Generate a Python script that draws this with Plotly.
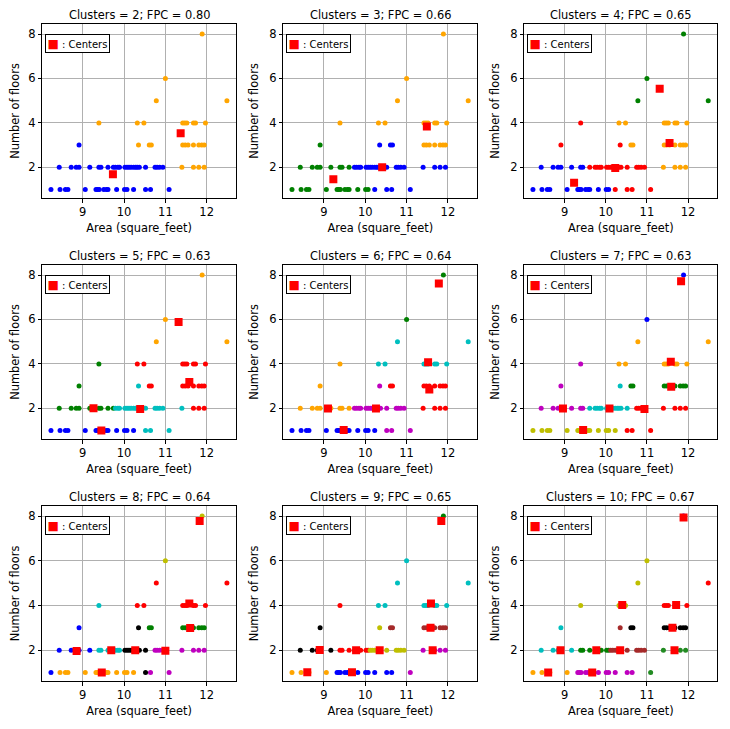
import plotly.graph_objects as go

# ---------------- data ----------------
FLOOR_LEVELS = [1, 2, 3, 4, 5, 6, 8]
AREA_F1 = [8.23, 8.45, 8.58, 8.64, 9.06, 9.32, 9.36, 9.40, 9.51, 9.57, 9.61, 9.82,
           10.01, 10.07, 10.23, 10.52, 10.64, 11.09]
AREA_F2 = [8.43, 8.72, 8.84, 8.91, 9.17, 9.39, 9.44, 9.61, 9.74, 9.79, 9.85, 9.89,
           10.02, 10.07, 10.12, 10.17, 10.23, 10.28, 10.32, 10.37, 10.52, 10.75,
           10.80, 10.86, 10.94, 11.40, 11.68, 11.81, 11.94]
AREA_F3 = [8.91, 10.35, 10.61, 10.66, 11.42, 11.48, 11.55, 11.68, 11.81, 11.88, 11.94]
AREA_F4 = [9.39, 10.32, 10.48, 11.42, 11.47, 11.52, 11.68, 11.73, 11.97]
AREA_F5 = [10.78, 12.49]
AREA_F6 = [11.00]
AREA_F8 = [11.89]

CLUSTER_COUNTS = [2, 3, 4, 5, 6, 7, 8, 9, 10]
FPC_VALUES = [0.80, 0.66, 0.65, 0.63, 0.64, 0.63, 0.64, 0.65, 0.67]

# cluster label of each point, grouped by floor level (1|2|3|4|5|6|8)
LABELS_C2 = "000000000000000000|00000000000000000000000001111|01111111111|111111111|11|1|1"
LABELS_C3 = "222222222222220000|22222222000000000000000000000|20001111111|111111111|11|1|1"
LABELS_C4 = "000000000000003333|00000003333333333333333331111|33111111111|311111111|22|2|2"
LABELS_C5 = "000000000000000444|22222222244444444444444444333|24333333333|233333333|11|1|1"
LABELS_C6 = "000000000000000555|11111111555555555555555553333|15333333333|144444444|44|2|2"
LABELS_C7 = "666666666666666333|55555554444444444444433333333|54222222222|511111111|11|0|0"
LABELS_C8 = "011111111111111755|00000444444477777777755555555|07222222222|433333333|33|6|6"
LABELS_C9 = "111110000000000005|77777333333333666666666665555|76888888888|344444444|44|4|2"
LABELS_C10 = "111115555555555559|44444222222222888888888889999|48777777777|666333333|63|6|0"

CENTER_AREA_C2 = [9.73, 11.37]
CENTER_FLOORS_C2 = [1.69, 3.53]
CENTER_AREA_C3 = [9.23, 10.41, 11.49]
CENTER_FLOORS_C3 = [1.46, 2.00, 3.84]
CENTER_AREA_C4 = [9.23, 10.23, 11.31, 11.55]
CENTER_FLOORS_C4 = [1.31, 1.97, 5.54, 3.09]
CENTER_AREA_C5 = [9.26, 9.45, 10.39, 11.32, 11.58]
CENTER_FLOORS_C5 = [2.00, 1.00, 1.97, 5.88, 3.18]
CENTER_AREA_C6 = [9.10, 9.48, 10.26, 11.52, 11.55, 11.78]
CENTER_FLOORS_C6 = [1.99, 1.03, 1.99, 4.07, 2.85, 7.62]
CENTER_AREA_C7 = [8.96, 9.45, 10.09, 10.94, 11.58, 11.59, 11.83]
CENTER_FLOORS_C7 = [1.99, 1.03, 1.99, 1.97, 4.10, 2.97, 7.72]
CENTER_AREA_C8 = [8.85, 9.46, 9.69, 10.27, 11.00, 11.58, 11.60, 11.83]
CENTER_FLOORS_C8 = [1.96, 1.00, 2.00, 2.00, 1.97, 4.09, 2.99, 7.78]
CENTER_AREA_C9 = [8.60, 8.90, 9.68, 9.78, 10.35, 11.63, 11.59, 11.58, 11.84]
CENTER_FLOORS_C9 = [1.01, 2.01, 1.01, 2.00, 2.00, 2.00, 4.09, 3.00, 7.78]
CENTER_AREA_C10 = [8.60, 8.90, 9.67, 9.77, 10.35, 10.40, 11.62, 11.71, 11.67, 11.89]
CENTER_FLOORS_C10 = [1.00, 2.00, 1.00, 2.00, 2.00, 4.02, 3.00, 4.02, 2.00, 7.93]

X_TICKS = [9, 10, 11, 12]
Y_TICKS = [2, 4, 6, 8]

# ---------------- styling ----------------
COLORS = ['#0000FF', '#FFA500', '#008000', '#FF0000', '#00BFBF', '#BF00BF',
          '#BFBF00', '#000000', '#A52A2A', '#228B22']
FONT = "DejaVu Sans"
PAGE_OFFSET = 8                     # default body margin of the page
W, H = 730 - PAGE_OFFSET, 729 - PAGE_OFFSET
COLS_PX = [(42.3, 236.0), (283.3, 477.3), (524.3, 717.3)]   # window pixels
ROWS_PX = [(24.0, 198.0), (265.0, 439.0), (506.0, 681.0)]
X_RANGE = [8.02, 12.71]
Y_RANGE = [0.62, 8.45]


def px_x(p):
    return (p - PAGE_OFFSET) / W


def px_y(p):
    return 1 - (p - PAGE_OFFSET) / H


groups = [AREA_F1, AREA_F2, AREA_F3, AREA_F4, AREA_F5, AREA_F6, AREA_F8]
area = [a for g in groups for a in g]
floors = [lvl for lvl, g in zip(FLOOR_LEVELS, groups) for _ in g]

labels_all = [LABELS_C2, LABELS_C3, LABELS_C4, LABELS_C5, LABELS_C6,
              LABELS_C7, LABELS_C8, LABELS_C9, LABELS_C10]
centers_all = [(CENTER_AREA_C2, CENTER_FLOORS_C2), (CENTER_AREA_C3, CENTER_FLOORS_C3),
               (CENTER_AREA_C4, CENTER_FLOORS_C4), (CENTER_AREA_C5, CENTER_FLOORS_C5),
               (CENTER_AREA_C6, CENTER_FLOORS_C6), (CENTER_AREA_C7, CENTER_FLOORS_C7),
               (CENTER_AREA_C8, CENTER_FLOORS_C8), (CENTER_AREA_C9, CENTER_FLOORS_C9),
               (CENTER_AREA_C10, CENTER_FLOORS_C10)]

fig = go.Figure()
layout = {}
annotations = []

for i, ncl in enumerate(CLUSTER_COUNTS):
    r, c = divmod(i, 3)
    n = i + 1
    xa = 'x' if n == 1 else f'x{n}'
    ya = 'y' if n == 1 else f'y{n}'
    labs = [int(ch) for ch in labels_all[i].replace('|', '')]
    for j in range(ncl):
        xs = [a for a, l in zip(area, labs) if l == j]
        ys = [f for f, l in zip(floors, labs) if l == j]
        fig.add_trace(go.Scatter(x=xs, y=ys, mode='markers', xaxis=xa, yaxis=ya,
                                 marker=dict(size=5, color=COLORS[j], line=dict(width=0)),
                                 showlegend=False, hoverinfo='skip'))
    cx, cy = centers_all[i]
    fig.add_trace(go.Scatter(x=cx, y=cy, mode='markers', xaxis=xa, yaxis=ya,
                             marker=dict(size=8, color='#FF0000', symbol='square',
                                         line=dict(width=0)),
                             showlegend=False, hoverinfo='skip'))

    x0, x1 = COLS_PX[c]
    y0, y1 = ROWS_PX[r]
    common = dict(showline=True, linecolor='black', linewidth=1, mirror=True,
                  showgrid=True, gridcolor='#b0b0b0', gridwidth=0.8, zeroline=False,
                  ticks='outside', ticklen=3.5, tickwidth=0.8, tickcolor='black',
                  tickfont=dict(family=FONT, size=11.5, color='black'))
    layout['xaxis' if n == 1 else f'xaxis{n}'] = dict(
        domain=[px_x(x0), px_x(x1)], range=X_RANGE, tickvals=X_TICKS,
        anchor=ya, title=dict(text='Area (square_feet)', standoff=5,
                              font=dict(family=FONT, size=11.4, color='black')),
        **common)
    layout['yaxis' if n == 1 else f'yaxis{n}'] = dict(
        domain=[px_y(y1), px_y(y0)], range=Y_RANGE, tickvals=Y_TICKS,
        anchor=xa, title=dict(text='Number of floors', standoff=8,
                              font=dict(family=FONT, size=11.4, color='black')),
        **common)
    annotations.append(dict(
        text=f'Clusters = {ncl}; FPC = {FPC_VALUES[i]:.2f}',
        x=px_x((x0 + x1) / 2), y=px_y(y0 - 9), xref='paper', yref='paper',
        xanchor='center', yanchor='middle', showarrow=False,
        font=dict(family=FONT, size=11.4, color='black')))
    annotations.append(dict(
        text='<span style="color:#FF0000;font-size:12px">■</span> : Centers',
        x=px_x(x0 + 3), y=px_y(y0 + 10), xref='paper', yref='paper',
        xanchor='left', yanchor='top', showarrow=False,
        bordercolor='black', borderwidth=1, borderpad=1.5, bgcolor='white',
        font=dict(family=FONT, size=10, color='black')))

fig.update_layout(width=W, height=H, margin=dict(l=0, r=0, t=0, b=0),
                  paper_bgcolor='white', plot_bgcolor='white',
                  font=dict(family=FONT, color='black'),
                  annotations=annotations, showlegend=False, **layout)

fig.write_html("out.html")
